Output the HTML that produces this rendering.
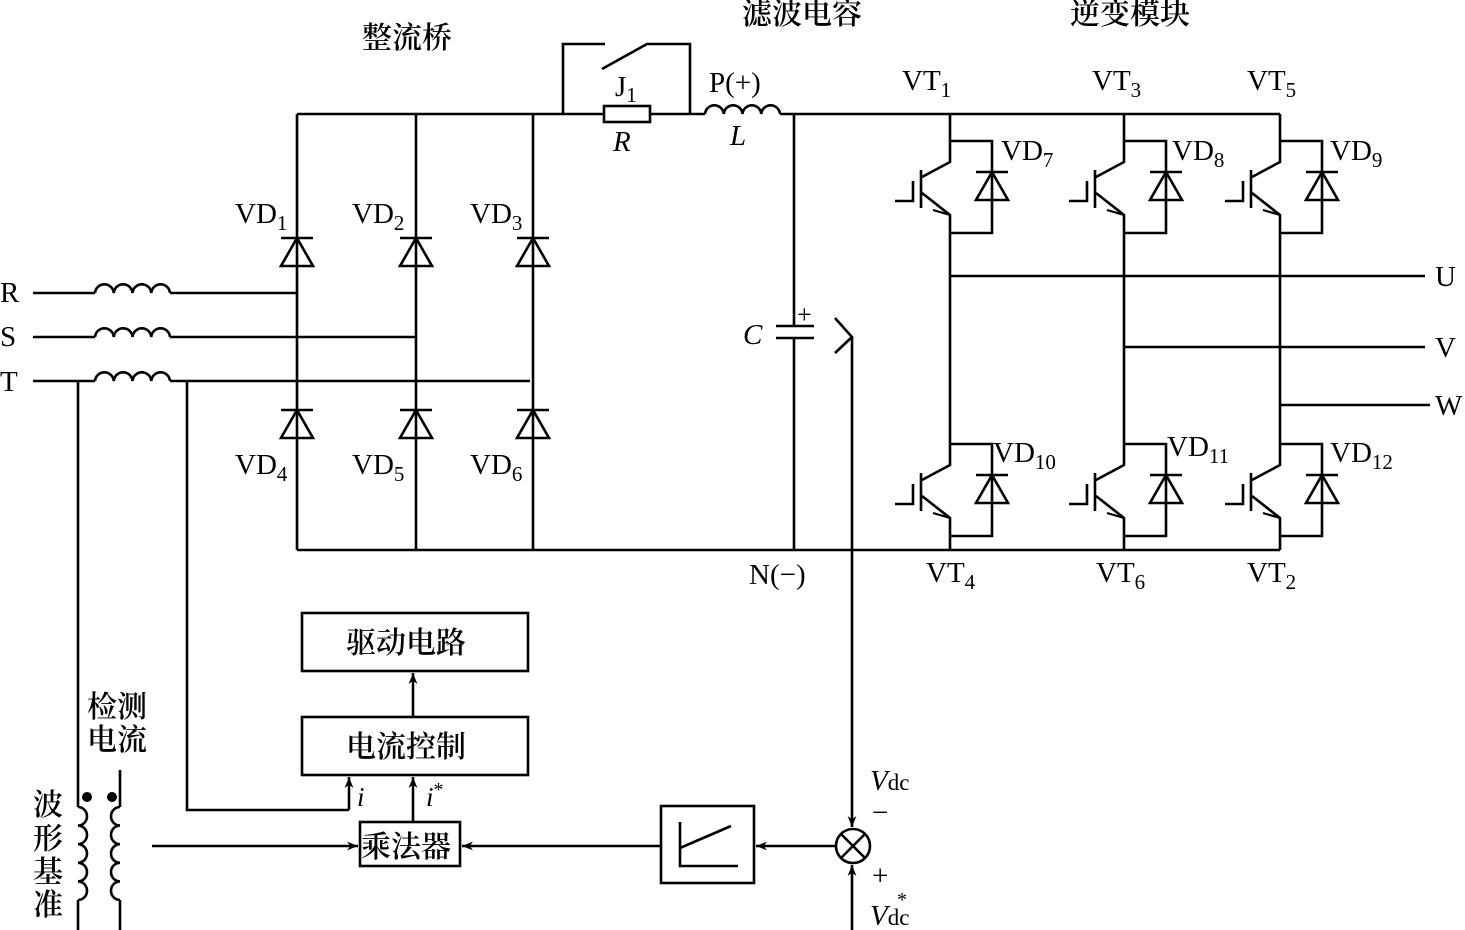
<!DOCTYPE html>
<html><head><meta charset="utf-8"><style>
html,body{margin:0;padding:0;background:#fff;}
svg{display:block;}
text{font-family:"Liberation Serif","Noto Serif CJK SC",serif;fill:#000;}
.cj{font-family:"Liberation Serif","Noto Serif CJK SC","Noto Sans CJK SC",serif;font-size:30px;font-weight:600;}
</style></head><body>
<svg width="1465" height="930" viewBox="0 0 1465 930" xmlns="http://www.w3.org/2000/svg">
<defs>
<marker id="ar" viewBox="0 0 10 10" refX="10" refY="5" markerWidth="16" markerHeight="11" markerUnits="userSpaceOnUse" orient="auto"><path d="M0,1 L10,5 L0,9 L3,5z" fill="#000"/></marker>
<g id="diode" fill="none" stroke="#000" stroke-width="2.6"><path d="M-16,0 H16 M0,0 L-16,28 H16 Z"/></g>
<g id="cell" fill="none" stroke="#000" stroke-width="2.6">
<path d="M0,0 H42 V92 H0 M0,0 V21 L-28,36 M-29,29 V67 M-55,60 H-37 V40 M-28,52 L0,74 V92"/>
<path d="M-14,63 L0,74 L-17,69" stroke-width="2.2"/>
<use href="#diode" x="42" y="31"/>
</g>
</defs>
<g fill="none" stroke="#000" stroke-width="2.6">
<path d="M297,114 H604 M650,114 H705 M780,114 H1280"/>
<rect x="604" y="106" width="46" height="16"/>
<path d="M563,114 V44 H605 M602,69 L647,44 H690 V114"/>
<path d="M705,114 a9.4,9.4 0 0 1 18.75,0 a9.4,9.4 0 0 1 18.75,0 a9.4,9.4 0 0 1 18.75,0 a9.4,9.4 0 0 1 18.75,0"/>
<path d="M297,550 H1280"/>
<path d="M297,114 V550 M416,114 V550 M533,114 V550"/>
<path d="M33,293 H95 M170,293 H297 M33,337 H95 M170,337 H416 M33,381 H95 M170,381 H530"/>
<path d="M95,293 a9.4,9.4 0 0 1 18.75,0 a9.4,9.4 0 0 1 18.75,0 a9.4,9.4 0 0 1 18.75,0 a9.4,9.4 0 0 1 18.75,0"/>
<path d="M95,337 a9.4,9.4 0 0 1 18.75,0 a9.4,9.4 0 0 1 18.75,0 a9.4,9.4 0 0 1 18.75,0 a9.4,9.4 0 0 1 18.75,0"/>
<path d="M95,381 a9.4,9.4 0 0 1 18.75,0 a9.4,9.4 0 0 1 18.75,0 a9.4,9.4 0 0 1 18.75,0 a9.4,9.4 0 0 1 18.75,0"/>
<path d="M794,114 V326 M776,326 H814 M776,338 H814 M794,338 V550"/>
<path d="M835,318 L852,337 L835,353"/>
<path d="M950,114 V141 M950,233 V444 M950,536 V550 M1124,114 V141 M1124,233 V444 M1124,536 V550 M1280,114 V141 M1280,233 V444 M1280,536 V550"/>
<path d="M950,276 H1425 M1124,347 H1425 M1280,405 H1430"/>
<path d="M78,381 V807 M78,900 V930 M187,381 V810 H349"/>
<path d="M78,807 a9,9.3 0 0 1 0,18.6 a9,9.3 0 0 1 0,18.6 a9,9.3 0 0 1 0,18.6 a9,9.3 0 0 1 0,18.6 a9,9.3 0 0 1 0,18.6"/>
<path d="M120,770 V807 M120,900 V930"/>
<path d="M120,807 a9,9.3 0 0 0 0,18.6 a9,9.3 0 0 0 0,18.6 a9,9.3 0 0 0 0,18.6 a9,9.3 0 0 0 0,18.6 a9,9.3 0 0 0 0,18.6"/>
<rect x="302" y="613" width="226" height="58"/>
<rect x="302" y="717" width="226" height="58"/>
<rect x="360" y="822" width="100" height="44"/>
<rect x="661" y="806" width="93" height="77"/>
<path d="M680,822 V866 H738 M680,848 L731,826"/>
<circle cx="853" cy="846" r="17"/>
<path d="M841,834 L865,858 M865,834 L841,858"/>
<path d="M349,810 V777" marker-end="url(#ar)"/>
<path d="M413,822 V777" marker-end="url(#ar)"/>
<path d="M413,717 V673" marker-end="url(#ar)"/>
<path d="M152,846 H358" marker-end="url(#ar)"/>
<path d="M661,846 H462" marker-end="url(#ar)"/>
<path d="M836,846 H756" marker-end="url(#ar)"/>
<path d="M852,337 V827" marker-end="url(#ar)"/>
<path d="M852,930 V865" marker-end="url(#ar)"/>
</g>
<circle cx="87" cy="797" r="5"/><circle cx="112" cy="797" r="5"/>
<use href="#diode" x="297" y="238"/><use href="#diode" x="416" y="238"/><use href="#diode" x="533" y="238"/>
<use href="#diode" x="297" y="410"/><use href="#diode" x="416" y="410"/><use href="#diode" x="533" y="410"/>
<use href="#cell" x="950" y="141"/><use href="#cell" x="1124" y="141"/><use href="#cell" x="1280" y="141"/>
<use href="#cell" x="950" y="444"/><use href="#cell" x="1124" y="444"/><use href="#cell" x="1280" y="444"/>
<g font-size="29">
<text x="362" y="48" class="cj">整流桥</text>
<text x="742" y="24" class="cj">滤波电容</text>
<text x="1070" y="24" class="cj">逆变模块</text>
<text x="615" y="96">J<tspan font-size="21" dy="6">1</tspan></text>
<text x="709" y="92">P(+)</text>
<text x="613" y="151" font-style="italic">R</text>
<text x="730" y="145" font-style="italic">L</text>
<text x="743" y="344" font-style="italic">C</text>
<text x="797" y="323" font-size="26">+</text>
<text x="749" y="584">N(−)</text>
<text x="235" y="223">VD<tspan font-size="21" dy="7">1</tspan></text>
<text x="352" y="223">VD<tspan font-size="21" dy="7">2</tspan></text>
<text x="470" y="223">VD<tspan font-size="21" dy="7">3</tspan></text>
<text x="235" y="474">VD<tspan font-size="21" dy="7">4</tspan></text>
<text x="352" y="474">VD<tspan font-size="21" dy="7">5</tspan></text>
<text x="470" y="474">VD<tspan font-size="21" dy="7">6</tspan></text>
<text x="0" y="302">R</text><text x="0" y="346">S</text><text x="0" y="391">T</text>
<text x="1435" y="286">U</text><text x="1435" y="357">V</text><text x="1435" y="415">W</text>
<text x="902" y="90">VT<tspan font-size="21" dy="7">1</tspan></text>
<text x="1092" y="90">VT<tspan font-size="21" dy="7">3</tspan></text>
<text x="1247" y="90">VT<tspan font-size="21" dy="7">5</tspan></text>
<text x="926" y="582">VT<tspan font-size="21" dy="7">4</tspan></text>
<text x="1096" y="582">VT<tspan font-size="21" dy="7">6</tspan></text>
<text x="1247" y="582">VT<tspan font-size="21" dy="7">2</tspan></text>
<text x="1001" y="160">VD<tspan font-size="21" dy="7">7</tspan></text>
<text x="1172" y="160">VD<tspan font-size="21" dy="7">8</tspan></text>
<text x="1330" y="160">VD<tspan font-size="21" dy="7">9</tspan></text>
<text x="993" y="462">VD<tspan font-size="21" dy="7">10</tspan></text>
<text x="1167" y="456">VD<tspan font-size="21" dy="7">11</tspan></text>
<text x="1330" y="462">VD<tspan font-size="21" dy="7">12</tspan></text>
<text x="346" y="653" class="cj">驱动电路</text>
<text x="346" y="757" class="cj">电流控制</text>
<text x="361" y="857" class="cj">乘法器</text>
<text x="87" y="717" class="cj">检测</text>
<text x="87" y="750" class="cj">电流</text>
<text x="33" y="815" class="cj">波</text>
<text x="33" y="849" class="cj">形</text>
<text x="33" y="882" class="cj">基</text>
<text x="33" y="915" class="cj">准</text>
<text x="357" y="806" font-style="italic" font-size="27">i</text>
<text x="426" y="806" font-style="italic" font-size="27">i<tspan font-style="normal" font-size="20" dy="-10">*</tspan></text>
<text x="870" y="790" font-style="italic">V<tspan font-style="normal" font-size="23">dc</tspan></text>
<text x="872" y="822">−</text>
<text x="872" y="885">+</text>
<text x="870" y="925" font-style="italic">V<tspan font-style="normal" font-size="23">dc</tspan></text>
<text x="897" y="906" font-size="20">*</text>
</g>
</svg>
</body></html>
